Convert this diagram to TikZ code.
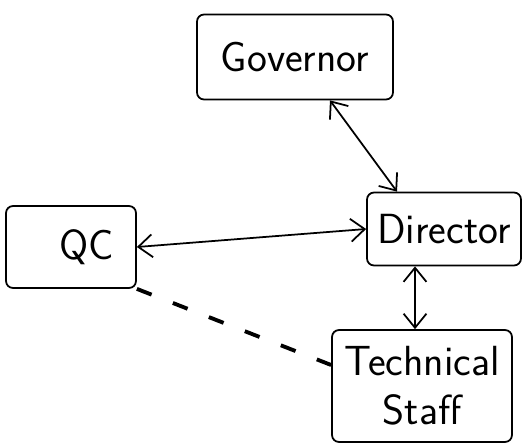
\documentclass[tikz,border=0pt]{standalone}
\usepackage{tikz}
\usetikzlibrary{arrows.meta,positioning}

\begin{document}
\begin{tikzpicture}[
    x=0.02cm, y=-0.02cm,
    box/.style={rectangle, rounded corners=4pt, draw, line width=1pt, inner xsep=2pt, font=\sffamily\fontsize{24}{28}\selectfont, align=center},
    arrow/.style={<->, line width=1pt, >={Straight Barb[length=8pt,width=13pt]}},
    link/.style={line width=2.2pt, dash pattern=on 9pt off 13pt}
]
    \useasboundingbox (0,0) rectangle (530,447);

    % Boxes
    \node[box, minimum width=3.92cm, minimum height=1.7cm] (governor) at (295,57) {Governor};
    \node[box, minimum width=3.08cm, minimum height=1.46cm] (director) at (444,229) {Director};
    \node[box, minimum width=2.6cm, minimum height=1.64cm, text width=1.72cm, inner xsep=0.44cm, align=right] (qc) at (71,247) {QC};
    \node[box, minimum width=3.6cm, minimum height=2.24cm] (tech) at (422,386) {Technical\\Staff};

    % Reporting lines
    \draw[arrow] ([xshift=0.7cm]governor.south) -- ([xshift=-0.94cm]director.north);
    \draw[arrow] (qc.east) -- (director.west);
    \draw[arrow] ([xshift=-0.58cm]director.south) -- ([xshift=-0.58cm]director.south |- tech.north);

    % Informal link
    \draw[link] (qc.south east) -- ([yshift=0.42cm]tech.west);
\end{tikzpicture}
\end{document}
